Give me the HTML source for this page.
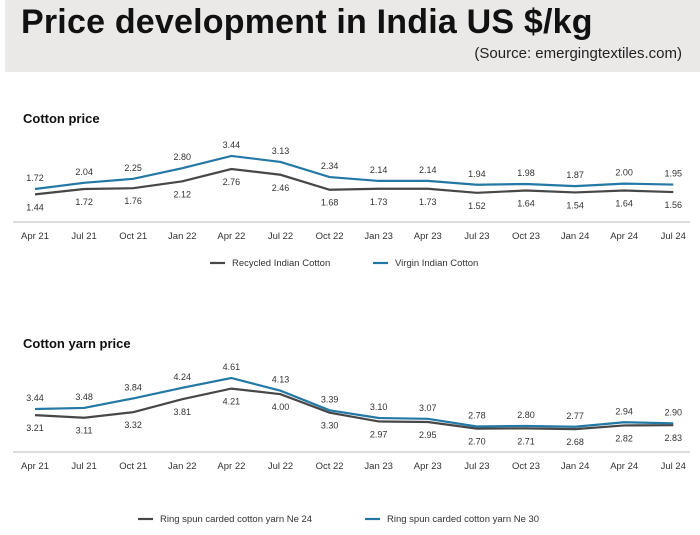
<!DOCTYPE html>
<html><head><meta charset="utf-8"><style>
body{margin:0;width:700px;height:535px;background:#fff;font-family:"Liberation Sans",sans-serif;overflow:hidden;position:relative}
#hdr{position:absolute;left:5px;top:0;width:695px;height:72px;background:#ebe9e8}
#title{position:absolute;left:21px;top:3px;font-size:34px;font-weight:bold;color:#111;letter-spacing:0.2px}
#src{position:absolute;right:18px;top:45px;font-size:15px;color:#222}
svg{position:absolute;left:0;top:0}
</style></head><body>
<div id="hdr"></div>
<div id="title">Price development in India US $/kg</div>
<div id="src">(Source: emergingtextiles.com)</div>
<svg id="chart" width="700" height="535"></svg>
<script>
const categories=["Apr 21","Jul 21","Oct 21","Jan 22","Apr 22","Jul 22","Oct 22","Jan 23","Apr 23","Jul 23","Oct 23","Jan 24","Apr 24","Jul 24"];
const recycled=[1.44,1.72,1.76,2.12,2.76,2.46,1.68,1.73,1.73,1.52,1.64,1.54,1.64,1.56];
const virgin=[1.72,2.04,2.25,2.80,3.44,3.13,2.34,2.14,2.14,1.94,1.98,1.87,2.00,1.95];
const ne24=[3.21,3.11,3.32,3.81,4.21,4.00,3.30,2.97,2.95,2.70,2.71,2.68,2.82,2.83];
const ne30=[3.44,3.48,3.84,4.24,4.61,4.13,3.39,3.10,3.07,2.78,2.80,2.77,2.94,2.90];
const svg=document.getElementById('chart');
const NS="http://www.w3.org/2000/svg";
function mk(tag,attrs,txt){const e=document.createElementNS(NS,tag);for(const k in attrs)e.setAttribute(k,attrs[k]);if(txt!==undefined)e.textContent=txt;svg.appendChild(e);return e;}
const x=i=>35+i*49.1;
const BLUE="#2478a6",DARK="#474747";
function chart(cfg){
  const y=cfg.y;
  let t=mk('text',{x:23,y:cfg.titleY,'font-size':13,'font-weight':'bold',fill:'#111'},cfg.title);
  
  
  let ax=mk('line',{x1:13,x2:690,y1:cfg.axisY,y2:cfg.axisY,stroke:'#bbb','stroke-width':1});
  
  
  categories.forEach((c,i)=>{
    let e=mk('text',{x:x(i),y:cfg.axisY+17,'font-size':9.5,'text-anchor':'middle',fill:'#333'},c);
    
    
  });
  [[cfg.low,DARK,1],[cfg.high,BLUE,-1]].forEach(([arr,col,dir],si)=>{
    let p=mk('polyline',{points:arr.map((v,i)=>x(i)+','+y(v)).join(' '),fill:'none',stroke:col,'stroke-width':2.2});
    
    
    arr.forEach((v,i)=>{
      let e=mk('text',{x:x(i),y:dir>0?y(v)+16:y(v)-8,'font-size':9,'text-anchor':'middle',fill:'#333'},v.toFixed(2));
      
      
    });
  });
  cfg.legend.forEach((l,k)=>{
    let g=mk('line',{x1:l.x,x2:l.x+15,y1:cfg.legY-3,y2:cfg.legY-3,stroke:k?BLUE:DARK,'stroke-width':2.2});
    
    
    let e=mk('text',{x:l.x+22,y:cfg.legY,'font-size':9.5,fill:'#333'},l.t);
    
    
  });
}
chart({key:'cotton',title:'Cotton price',titleY:123,axisY:222,y:v=>222-v*19.2,low:recycled,high:virgin,legY:266,
  legend:[{x:210,t:'Recycled Indian Cotton'},{x:373,t:'Virgin Indian Cotton'}]});
chart({key:'yarn',title:'Cotton yarn price',titleY:348,axisY:452,y:v=>409-(v-3.44)*26.5,low:ne24,high:ne30,legY:522,
  legend:[{x:138,t:'Ring spun carded cotton yarn Ne 24'},{x:365,t:'Ring spun carded cotton yarn Ne 30'}]});
</script>
</body></html>
